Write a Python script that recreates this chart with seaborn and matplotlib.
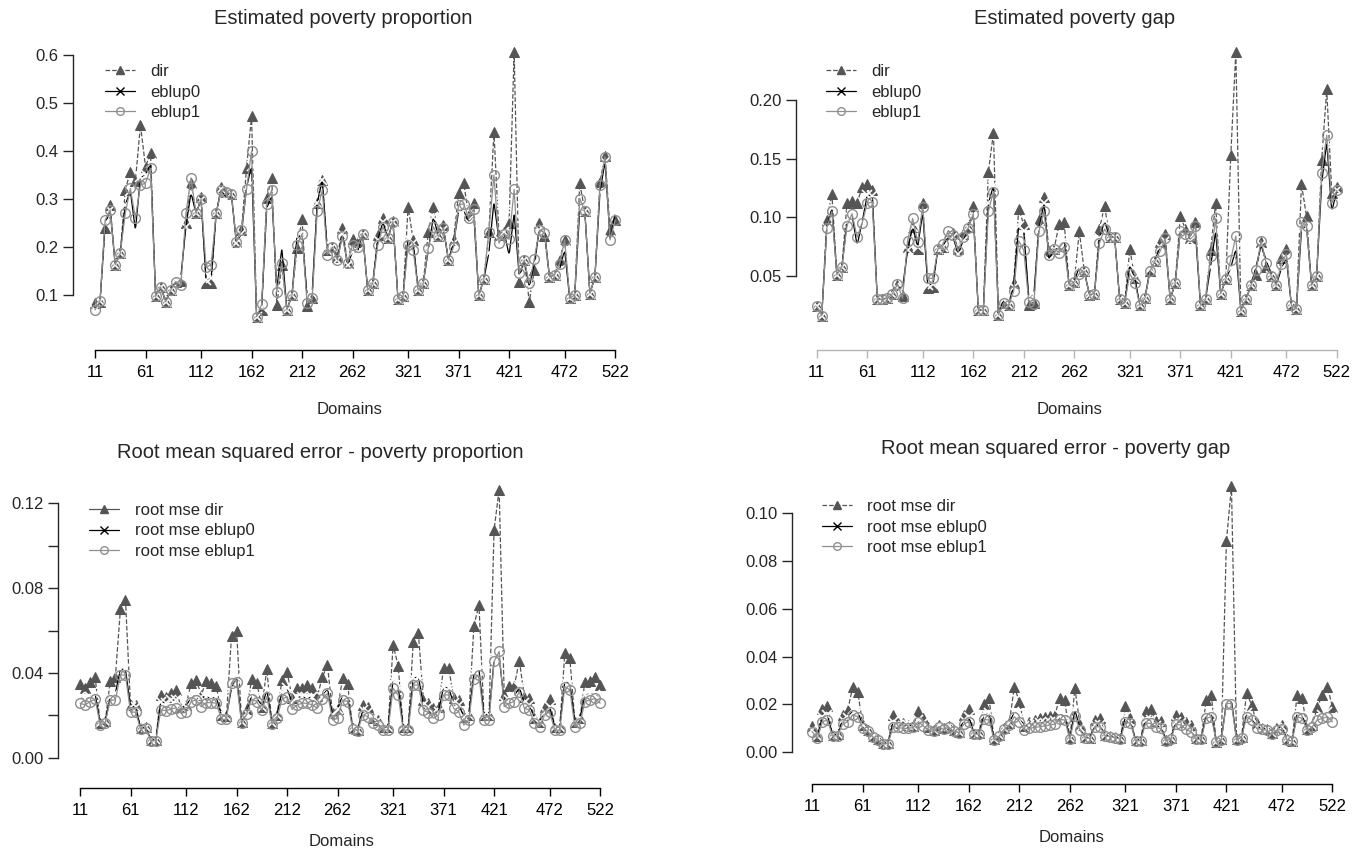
import matplotlib
matplotlib.use("Agg")
import matplotlib.pyplot as plt
import seaborn as sns
import pandas as pd
from matplotlib.lines import Line2D

# domains: province (1..52) x sex (1, 2)
domains = [f"{p}{s}" for p in range(1, 53) for s in (1, 2)]
tick_pos = [1, 11, 22, 32, 42, 52, 63, 73, 83, 94, 104]

prop_dir = [0.083, 0.086, 0.239, 0.288, 0.163, 0.187, 0.319, 0.357, 0.338, 0.454,
            0.367, 0.395, 0.097, 0.117, 0.086, 0.110, 0.128, 0.130, 0.251, 0.333,
            0.270, 0.305, 0.124, 0.124, 0.271, 0.326, 0.315, 0.310, 0.211, 0.235,
            0.364, 0.473, 0.055, 0.069, 0.303, 0.343, 0.079, 0.163, 0.069, 0.100,
            0.197, 0.258, 0.077, 0.093, 0.291, 0.340, 0.194, 0.200, 0.180, 0.240,
            0.166, 0.216, 0.211, 0.228, 0.110, 0.124, 0.224, 0.260, 0.218, 0.255,
            0.092, 0.097, 0.284, 0.215, 0.110, 0.124, 0.232, 0.283, 0.222, 0.246,
            0.173, 0.215, 0.312, 0.333, 0.267, 0.291, 0.099, 0.133, 0.232, 0.440,
            0.225, 0.232, 0.249, 0.607, 0.128, 0.173, 0.086, 0.152, 0.251, 0.222,
            0.138, 0.142, 0.173, 0.215, 0.093, 0.100, 0.333, 0.274, 0.103, 0.138,
            0.336, 0.390, 0.235, 0.256]
prop_eb0 = [0.069, 0.088, 0.249, 0.277, 0.163, 0.187, 0.288, 0.317, 0.235, 0.346,
            0.349, 0.374, 0.097, 0.117, 0.086, 0.110, 0.131, 0.138, 0.242, 0.313,
            0.270, 0.298, 0.131, 0.135, 0.271, 0.320, 0.301, 0.310, 0.208, 0.228,
            0.324, 0.369, 0.055, 0.075, 0.280, 0.308, 0.114, 0.197, 0.069, 0.100,
            0.222, 0.222, 0.100, 0.104, 0.291, 0.340, 0.194, 0.200, 0.173, 0.228,
            0.163, 0.190, 0.190, 0.228, 0.110, 0.124, 0.215, 0.252, 0.218, 0.253,
            0.092, 0.097, 0.218, 0.208, 0.110, 0.124, 0.194, 0.263, 0.222, 0.236,
            0.173, 0.208, 0.274, 0.278, 0.249, 0.267, 0.099, 0.133, 0.188, 0.294,
            0.215, 0.232, 0.183, 0.270, 0.140, 0.173, 0.117, 0.166, 0.236, 0.235,
            0.138, 0.142, 0.153, 0.194, 0.093, 0.100, 0.280, 0.274, 0.103, 0.138,
            0.315, 0.378, 0.215, 0.270]
prop_eb1 = [0.069, 0.088, 0.256, 0.277, 0.163, 0.187, 0.271, 0.322, 0.260, 0.329,
            0.333, 0.364, 0.097, 0.117, 0.086, 0.110, 0.128, 0.121, 0.270, 0.344,
            0.270, 0.300, 0.158, 0.163, 0.271, 0.319, 0.315, 0.310, 0.211, 0.235,
            0.320, 0.400, 0.055, 0.081, 0.290, 0.319, 0.107, 0.166, 0.069, 0.100,
            0.204, 0.227, 0.083, 0.093, 0.274, 0.319, 0.184, 0.200, 0.173, 0.222,
            0.166, 0.204, 0.200, 0.228, 0.110, 0.124, 0.204, 0.242, 0.218, 0.253,
            0.092, 0.097, 0.204, 0.194, 0.110, 0.124, 0.198, 0.242, 0.222, 0.240,
            0.173, 0.200, 0.288, 0.290, 0.260, 0.280, 0.099, 0.133, 0.232, 0.350,
            0.208, 0.228, 0.216, 0.320, 0.145, 0.173, 0.124, 0.176, 0.235, 0.230,
            0.138, 0.142, 0.165, 0.215, 0.093, 0.100, 0.301, 0.274, 0.103, 0.138,
            0.329, 0.388, 0.215, 0.256]

gap_dir = [0.024, 0.016, 0.098, 0.120, 0.051, 0.058, 0.112, 0.114, 0.112, 0.126,
           0.128, 0.123, 0.030, 0.030, 0.031, 0.035, 0.042, 0.033, 0.075, 0.092,
           0.073, 0.112, 0.040, 0.041, 0.073, 0.075, 0.085, 0.087, 0.073, 0.086,
           0.092, 0.110, 0.021, 0.021, 0.139, 0.172, 0.017, 0.027, 0.025, 0.044,
           0.107, 0.094, 0.025, 0.027, 0.098, 0.117, 0.071, 0.073, 0.094, 0.096,
           0.042, 0.045, 0.088, 0.054, 0.034, 0.035, 0.090, 0.110, 0.083, 0.083,
           0.030, 0.027, 0.073, 0.048, 0.025, 0.031, 0.054, 0.063, 0.079, 0.086,
           0.030, 0.044, 0.101, 0.090, 0.082, 0.096, 0.025, 0.030, 0.072, 0.112,
           0.035, 0.047, 0.153, 0.241, 0.020, 0.030, 0.042, 0.051, 0.079, 0.058,
           0.050, 0.042, 0.065, 0.073, 0.025, 0.022, 0.128, 0.101, 0.042, 0.050,
           0.149, 0.209, 0.121, 0.126]
gap_eb0 = [0.024, 0.016, 0.091, 0.108, 0.051, 0.058, 0.096, 0.102, 0.076, 0.096,
           0.119, 0.118, 0.030, 0.030, 0.031, 0.035, 0.040, 0.040, 0.072, 0.092,
           0.075, 0.104, 0.042, 0.043, 0.073, 0.075, 0.084, 0.083, 0.069, 0.080,
           0.092, 0.102, 0.021, 0.021, 0.112, 0.127, 0.017, 0.030, 0.025, 0.041,
           0.093, 0.088, 0.032, 0.034, 0.090, 0.112, 0.064, 0.073, 0.073, 0.080,
           0.042, 0.045, 0.058, 0.054, 0.034, 0.035, 0.082, 0.097, 0.083, 0.083,
           0.030, 0.027, 0.059, 0.048, 0.025, 0.031, 0.056, 0.063, 0.075, 0.080,
           0.030, 0.044, 0.088, 0.084, 0.080, 0.087, 0.025, 0.030, 0.058, 0.088,
           0.035, 0.047, 0.057, 0.073, 0.020, 0.030, 0.042, 0.058, 0.076, 0.064,
           0.050, 0.042, 0.056, 0.065, 0.025, 0.022, 0.090, 0.092, 0.042, 0.050,
           0.129, 0.164, 0.105, 0.123]
gap_eb1 = [0.024, 0.016, 0.091, 0.105, 0.051, 0.058, 0.093, 0.103, 0.083, 0.095,
           0.112, 0.113, 0.030, 0.030, 0.031, 0.035, 0.043, 0.031, 0.080, 0.099,
           0.079, 0.109, 0.048, 0.048, 0.073, 0.077, 0.088, 0.085, 0.071, 0.083,
           0.091, 0.103, 0.021, 0.021, 0.105, 0.122, 0.017, 0.027, 0.025, 0.037,
           0.080, 0.072, 0.028, 0.026, 0.088, 0.105, 0.068, 0.073, 0.070, 0.075,
           0.042, 0.045, 0.052, 0.054, 0.034, 0.035, 0.078, 0.090, 0.083, 0.083,
           0.030, 0.027, 0.052, 0.044, 0.025, 0.031, 0.054, 0.063, 0.071, 0.082,
           0.030, 0.044, 0.088, 0.086, 0.084, 0.093, 0.025, 0.030, 0.067, 0.099,
           0.035, 0.047, 0.064, 0.084, 0.020, 0.030, 0.042, 0.055, 0.080, 0.061,
           0.050, 0.042, 0.060, 0.069, 0.025, 0.022, 0.096, 0.093, 0.042, 0.050,
           0.138, 0.170, 0.112, 0.123]

rmse_prop_dir = [0.0346, 0.0328, 0.0359, 0.0380, 0.0162, 0.0173, 0.0364, 0.0380, 0.0700, 0.0745,
                 0.0249, 0.0249, 0.0139, 0.0146, 0.0083, 0.0083, 0.0296, 0.0288, 0.0304, 0.0320,
                 0.0241, 0.0249, 0.0351, 0.0367, 0.0296, 0.0360, 0.0351, 0.0340, 0.0200, 0.0197,
                 0.0575, 0.0600, 0.0170, 0.0228, 0.0370, 0.0351, 0.0240, 0.0417, 0.0165, 0.0201,
                 0.0367, 0.0406, 0.0280, 0.0328, 0.0328, 0.0343, 0.0328, 0.0291, 0.0380, 0.0438,
                 0.0210, 0.0228, 0.0375, 0.0346, 0.0139, 0.0130, 0.0249, 0.0241, 0.0186, 0.0178,
                 0.0146, 0.0146, 0.0532, 0.0433, 0.0146, 0.0146, 0.0548, 0.0590, 0.0272, 0.0257,
                 0.0233, 0.0241, 0.0425, 0.0425, 0.0280, 0.0272, 0.0194, 0.0202, 0.0622, 0.0721,
                 0.0202, 0.0202, 0.1076, 0.1265, 0.0296, 0.0339, 0.0339, 0.0458, 0.0288, 0.0283,
                 0.0186, 0.0170, 0.0241, 0.0276, 0.0146, 0.0146, 0.0493, 0.0470, 0.0170, 0.0186,
                 0.0359, 0.0364, 0.0383, 0.0343]
rmse_prop_eb0 = [0.0285, 0.0275, 0.0288, 0.0300, 0.0162, 0.0173, 0.0288, 0.0304, 0.0417, 0.0417,
                 0.0241, 0.0241, 0.0139, 0.0146, 0.0083, 0.0083, 0.0265, 0.0257, 0.0272, 0.0272,
                 0.0241, 0.0241, 0.0288, 0.0296, 0.0285, 0.0288, 0.0280, 0.0285, 0.0200, 0.0197,
                 0.0328, 0.0383, 0.0170, 0.0210, 0.0296, 0.0288, 0.0240, 0.0320, 0.0165, 0.0201,
                 0.0312, 0.0328, 0.0257, 0.0285, 0.0288, 0.0280, 0.0288, 0.0257, 0.0288, 0.0328,
                 0.0202, 0.0228, 0.0296, 0.0288, 0.0139, 0.0130, 0.0225, 0.0217, 0.0186, 0.0178,
                 0.0146, 0.0146, 0.0367, 0.0335, 0.0146, 0.0146, 0.0375, 0.0383, 0.0249, 0.0241,
                 0.0210, 0.0217, 0.0335, 0.0328, 0.0257, 0.0249, 0.0194, 0.0202, 0.0398, 0.0417,
                 0.0202, 0.0202, 0.0461, 0.0477, 0.0265, 0.0272, 0.0288, 0.0332, 0.0257, 0.0249,
                 0.0186, 0.0170, 0.0217, 0.0241, 0.0146, 0.0146, 0.0359, 0.0351, 0.0170, 0.0186,
                 0.0296, 0.0304, 0.0296, 0.0288]
rmse_prop_eb1 = [0.0257, 0.0249, 0.0265, 0.0276, 0.0155, 0.0165, 0.0272, 0.0272, 0.0390, 0.0390,
                 0.0215, 0.0215, 0.0135, 0.0140, 0.0080, 0.0080, 0.0225, 0.0222, 0.0228, 0.0236,
                 0.0210, 0.0214, 0.0265, 0.0272, 0.0240, 0.0260, 0.0260, 0.0257, 0.0181, 0.0181,
                 0.0354, 0.0359, 0.0162, 0.0205, 0.0276, 0.0265, 0.0225, 0.0288, 0.0160, 0.0185,
                 0.0276, 0.0288, 0.0228, 0.0249, 0.0257, 0.0257, 0.0249, 0.0233, 0.0276, 0.0304,
                 0.0178, 0.0185, 0.0272, 0.0265, 0.0135, 0.0128, 0.0202, 0.0194, 0.0162, 0.0154,
                 0.0130, 0.0130, 0.0328, 0.0296, 0.0130, 0.0130, 0.0343, 0.0343, 0.0225, 0.0213,
                 0.0186, 0.0202, 0.0296, 0.0296, 0.0233, 0.0217, 0.0154, 0.0178, 0.0370, 0.0390,
                 0.0178, 0.0178, 0.0454, 0.0501, 0.0241, 0.0257, 0.0265, 0.0312, 0.0233, 0.0225,
                 0.0162, 0.0146, 0.0202, 0.0217, 0.0130, 0.0130, 0.0335, 0.0320, 0.0146, 0.0162,
                 0.0265, 0.0272, 0.0280, 0.0257]

rmse_gap_dir = [0.0110, 0.0068, 0.0179, 0.0193, 0.0072, 0.0075, 0.0156, 0.0177, 0.0271, 0.0253,
                0.0114, 0.0093, 0.0068, 0.0054, 0.0038, 0.0038, 0.0156, 0.0124, 0.0121, 0.0114,
                0.0110, 0.0172, 0.0142, 0.0107, 0.0093, 0.0114, 0.0100, 0.0110, 0.0093, 0.0086,
                0.0156, 0.0179, 0.0082, 0.0079, 0.0204, 0.0225, 0.0054, 0.0072, 0.0100, 0.0121,
                0.0274, 0.0211, 0.0110, 0.0128, 0.0135, 0.0142, 0.0146, 0.0152, 0.0156, 0.0225,
                0.0218, 0.0058, 0.0267, 0.0114, 0.0065, 0.0061, 0.0135, 0.0142, 0.0072, 0.0070,
                0.0065, 0.0058, 0.0193, 0.0142, 0.0051, 0.0051, 0.0174, 0.0179, 0.0131, 0.0131,
                0.0051, 0.0058, 0.0156, 0.0149, 0.0128, 0.0114, 0.0058, 0.0058, 0.0218, 0.0239,
                0.0045, 0.0054, 0.0882, 0.1111, 0.0054, 0.0065, 0.0249, 0.0198, 0.0121, 0.0100,
                0.0096, 0.0079, 0.0107, 0.0114, 0.0054, 0.0049, 0.0239, 0.0225, 0.0096, 0.0114,
                0.0190, 0.0239, 0.0274, 0.0190]
rmse_gap_eb0 = [0.0093, 0.0068, 0.0149, 0.0156, 0.0072, 0.0075, 0.0135, 0.0142, 0.0179, 0.0170,
                0.0114, 0.0093, 0.0068, 0.0054, 0.0038, 0.0038, 0.0128, 0.0114, 0.0110, 0.0114,
                0.0110, 0.0135, 0.0121, 0.0107, 0.0093, 0.0114, 0.0100, 0.0110, 0.0093, 0.0086,
                0.0135, 0.0149, 0.0082, 0.0079, 0.0156, 0.0163, 0.0054, 0.0072, 0.0100, 0.0121,
                0.0170, 0.0149, 0.0110, 0.0114, 0.0118, 0.0121, 0.0124, 0.0128, 0.0132, 0.0156,
                0.0152, 0.0058, 0.0177, 0.0100, 0.0065, 0.0061, 0.0114, 0.0114, 0.0072, 0.0070,
                0.0065, 0.0058, 0.0149, 0.0128, 0.0051, 0.0051, 0.0135, 0.0135, 0.0110, 0.0107,
                0.0051, 0.0058, 0.0128, 0.0124, 0.0104, 0.0093, 0.0058, 0.0058, 0.0156, 0.0166,
                0.0045, 0.0054, 0.0211, 0.0218, 0.0054, 0.0065, 0.0163, 0.0142, 0.0107, 0.0100,
                0.0096, 0.0079, 0.0100, 0.0104, 0.0054, 0.0049, 0.0163, 0.0156, 0.0096, 0.0114,
                0.0142, 0.0156, 0.0170, 0.0149]
rmse_gap_eb1 = [0.0086, 0.0058, 0.0128, 0.0135, 0.0068, 0.0070, 0.0118, 0.0128, 0.0156, 0.0149,
                0.0100, 0.0088, 0.0065, 0.0052, 0.0036, 0.0036, 0.0107, 0.0104, 0.0100, 0.0100,
                0.0104, 0.0128, 0.0110, 0.0093, 0.0088, 0.0107, 0.0096, 0.0104, 0.0088, 0.0082,
                0.0118, 0.0128, 0.0078, 0.0075, 0.0138, 0.0135, 0.0052, 0.0068, 0.0096, 0.0114,
                0.0149, 0.0128, 0.0093, 0.0100, 0.0104, 0.0107, 0.0110, 0.0114, 0.0118, 0.0138,
                0.0135, 0.0055, 0.0152, 0.0093, 0.0062, 0.0058, 0.0107, 0.0107, 0.0068, 0.0066,
                0.0062, 0.0055, 0.0128, 0.0121, 0.0049, 0.0049, 0.0121, 0.0121, 0.0104, 0.0100,
                0.0049, 0.0055, 0.0118, 0.0114, 0.0096, 0.0086, 0.0055, 0.0055, 0.0142, 0.0149,
                0.0043, 0.0052, 0.0204, 0.0204, 0.0052, 0.0062, 0.0149, 0.0135, 0.0100, 0.0096,
                0.0092, 0.0075, 0.0093, 0.0096, 0.0052, 0.0047, 0.0149, 0.0142, 0.0092, 0.0107,
                0.0135, 0.0142, 0.0149, 0.0128]

DIR_C = "#555555"
EB0_C = "#000000"
EB1_C = "#8f8f8f"

sns.set_style("ticks")
plt.rcParams["font.family"] = ["Liberation Sans", "DejaVu Sans"]
plt.rcParams["font.size"] = 12

W, H = 1367, 849
fig = plt.figure(figsize=(W / 100, H / 100), dpi=100)


def make_ax(left, right, top, bottom):
    return fig.add_axes([left / W, 1 - bottom / H, (right - left) / W, (bottom - top) / H])


def draw_panel(ax, d, e0, e1, labels, xlim, ylim, yticks, ylabels, title, tpos,
               dpos, leg_anchor, legend_dir_ls="--", xaxis_color="black"):
    idx = list(range(1, len(domains) + 1))
    df = pd.DataFrame({"idx": idx, "dir": d, "eb0": e0, "eb1": e1})
    sns.lineplot(data=df, x="idx", y="dir", ax=ax, color=DIR_C, linestyle="--",
                 linewidth=0.9, marker="^", markersize=7.5, markeredgecolor=DIR_C,
                 markerfacecolor=DIR_C)
    sns.lineplot(data=df, x="idx", y="eb0", ax=ax, color=EB0_C, linestyle="-",
                 linewidth=0.9, marker="x", markersize=7.5, markeredgewidth=1.2)
    sns.lineplot(data=df, x="idx", y="eb1", ax=ax, color=EB1_C, linestyle="-",
                 linewidth=0.9, marker="o", markersize=7, markerfacecolor="none",
                 markeredgecolor=EB1_C, markeredgewidth=1.0)
    ax.set_xlim(*xlim)
    ax.set_ylim(*ylim)
    ax.set_xticks(tick_pos)
    ax.set_xticklabels([domains[i - 1] for i in tick_pos])
    ax.set_yticks(yticks)
    ax.set_yticklabels(ylabels)
    ax.set_xlabel("")
    ax.set_ylabel("")
    for s in ("top", "right"):
        ax.spines[s].set_visible(False)
    ax.spines["left"].set_bounds(yticks[0], yticks[-1])
    ax.spines["bottom"].set_bounds(tick_pos[0], tick_pos[-1])
    ax.spines["bottom"].set_color(xaxis_color)
    for s in ("left", "bottom"):
        ax.spines[s].set_linewidth(1.0)
    ax.tick_params(axis="x", length=6, width=1.0, pad=5, colors="black",
                   color=xaxis_color, labelsize=12)
    ax.tick_params(axis="y", length=7.2, width=1.0, pad=3.4, labelsize=12)
    handles = [
        Line2D([], [], color=DIR_C, linestyle=legend_dir_ls, linewidth=0.9, marker="^",
               markersize=5.5, markerfacecolor=DIR_C, markeredgecolor=DIR_C),
        Line2D([], [], color=EB0_C, linewidth=0.9, marker="x", markersize=5.5),
        Line2D([], [], color=EB1_C, linewidth=0.9, marker="o", markersize=5.5,
               markerfacecolor="none", markeredgecolor=EB1_C),
    ]
    ax.legend(handles, labels, loc="upper left", bbox_to_anchor=leg_anchor,
              frameon=False, fontsize=12, handlelength=1.8, handletextpad=0.94,
              labelspacing=0.32, borderaxespad=0, borderpad=0)
    fig.text(tpos[0] / W, 1 - tpos[1] / H, title, ha="center", va="center", fontsize=14.5)
    fig.text(dpos[0] / W, 1 - dpos[1] / H, "Domains", ha="center", va="center", fontsize=12)


# Estimated poverty proportion
ax1 = make_ax(73, 637, 41, 350)
draw_panel(ax1, prop_dir, prop_eb0, prop_eb1, ["dir", "eblup0", "eblup1"],
           (-3.36, 108.33), (-0.0146, 0.6292),
           [0.1, 0.2, 0.3, 0.4, 0.5, 0.6], ["0.1", "0.2", "0.3", "0.4", "0.5", "0.6"],
           "Estimated poverty proportion", (343, 18), (350, 410), (0.0567, 0.9246))

# Estimated poverty gap
ax2 = make_ax(796, 1360, 41, 350)
draw_panel(ax2, gap_dir, gap_eb0, gap_eb1, ["dir", "eblup0", "eblup1"],
           (-3.10, 108.59), (-0.0131, 0.2503),
           [0.05, 0.10, 0.15, 0.20], ["0.05", "0.10", "0.15", "0.20"],
           "Estimated poverty gap", (1075, 18), (1070, 410), (0.0532, 0.9246),
           xaxis_color="#b5b5b5")

# RMSE poverty proportion
ax3 = make_ax(58, 622, 480, 788)
draw_panel(ax3, rmse_prop_dir, rmse_prop_eb0, rmse_prop_eb1,
           ["root mse dir", "root mse eblup0", "root mse eblup1"],
           (-3.36, 108.33), (-0.0143, 0.1310),
           [0.0, 0.02, 0.04, 0.06, 0.08, 0.10, 0.12],
           ["0.00", "", "0.04", "", "0.08", "", "0.12"],
           "Root mean squared error - poverty proportion", (320, 453), (342, 842),
           (0.055, 0.925), legend_dir_ls="-")

# RMSE poverty gap
ax4 = make_ax(792, 1356, 480, 784)
draw_panel(ax4, rmse_gap_dir, rmse_gap_eb0, rmse_gap_eb1,
           ["root mse dir", "root mse eblup0", "root mse eblup1"],
           (-3.02, 108.66), (-0.0132, 0.1137),
           [0.0, 0.02, 0.04, 0.06, 0.08, 0.10],
           ["0.00", "0.02", "0.04", "0.06", "0.08", "0.10"],
           "Root mean squared error - poverty gap", (1056, 448), (1072, 837),
           (0.0527, 0.9365))

fig.savefig("out.png", dpi=100, facecolor="white")
